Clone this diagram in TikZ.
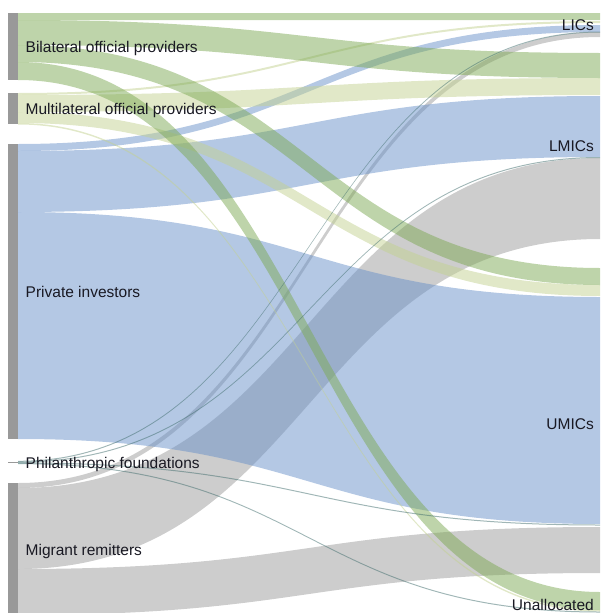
\documentclass[tikz,border=0pt]{standalone}
\usepackage{fontspec}
\setmainfont{Liberation Sans}
\definecolor{barc}{RGB}{153,153,153}
\definecolor{labc}{RGB}{25,25,35}
\definecolor{bilc}{RGB}{125,169,85}
\definecolor{mulc}{RGB}{195,209,145}
\definecolor{pric}{RGB}{105,145,201}
\definecolor{phic}{RGB}{65,110,110}
\definecolor{remc}{RGB}{155,155,155}

\begin{document}
\begin{tikzpicture}[x=1pt, y=-1pt,
    bar/.style = {fill=barc, inner sep=0pt, minimum width=10pt},
    flow/.style = {fill opacity=0.5},
    lab/.style = {font=\fontsize{15.5}{18}\selectfont, text=labc, inner sep=0pt},]
	\useasboundingbox (0,0) rectangle (600,613);
	\clip (0,0) rectangle (600,613);

	% source bars
	\node[bar, minimum height=67pt] (bil) at (13,46.5) {};
	\node[bar, minimum height=31pt] (mul) at (13,108.5) {};
	\node[bar, minimum height=295pt] (pri) at (13,291.5) {};
	\node[bar, minimum height=1.6pt] (phi) at (13,462.5) {};
	\node[bar, minimum height=132pt] (rem) at (13,549) {};

	% flows: colour / source top / source bottom / target top / target bottom
	\foreach \c/\a/\b/\p/\q in {
		remc/483/488/32/37, remc/488/569/158/239, remc/569/615/527/573,
		pric/144/151/25/32, pric/151/212/96/157, pric/212/439/297/524,
		mulc/93/95/21/23, mulc/95/112/78/95, mulc/112/123/285/296, mulc/123/124.5/610/611.5,
		bilc/13/20/13/20, bilc/20/45/53/78, bilc/45/62/268/285, bilc/62/80/592/610,
		phic/460.8/461.8/31.5/32.5, phic/461.6/462.6/157/158,
		phic/462.4/463.4/524.5/525.5, phic/463.1/464.1/611.5/612.5}
		\fill[flow, fill=\c] (18,\a) .. controls (309,\a) and (309,\p) .. (600,\p)
			-- (600,\q) .. controls (309,\q) and (309,\b) .. (18,\b) -- cycle;

	% source labels
	\node[lab, anchor=base west] (bil-l) at (25.5,52.3) {Bilateral official providers};
	\node[lab, anchor=base west] (mul-l) at (25.5,114.3) {Multilateral official providers};
	\node[lab, anchor=base west] (pri-l) at (25.5,297.3) {Private investors};
	\node[lab, anchor=base west] (phi-l) at (25.5,468.3) {Philanthropic foundations};
	\node[lab, anchor=base west] (rem-l) at (25.5,555) {Migrant remitters};

	% target labels
	\node[lab, anchor=base east] (lic) at (594,30) {LICs};
	\node[lab, anchor=base east] (lmic) at (594,151.7) {LMICs};
	\node[lab, anchor=base east] (umic) at (594,429) {UMICs};
	\node[lab, anchor=base east] (unal) at (594,610.5) {Unallocated};
\end{tikzpicture}
\end{document}
